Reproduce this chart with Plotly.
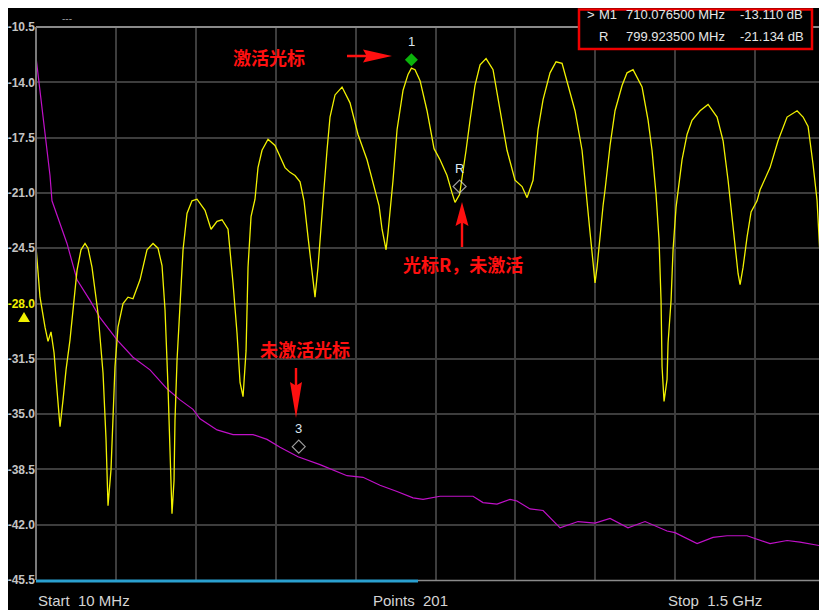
import plotly.graph_objects as go

# sweep settings shown on the screen
START_MHZ = 10
STOP_MHZ = 1500
POINTS = 201

# trace 1 (yellow): MHz / dB
trc1_freq = [10, 17.5, 26.8, 32.4, 38, 43.6, 49.2, 54.8, 60.4, 66, 73.4, 86.5, 93.9, 101.4,
             107, 114.4, 125.6, 135, 140.6, 144.3, 149.9, 153.6, 157.3, 162.9, 172.3, 181.6,
             190.9, 204, 217, 228.2, 237.5, 245, 250.6, 256.2, 259.9, 263.6, 267.4, 269.2,
             273, 278.6, 284.2, 291.6, 300.9, 310.3, 325.2, 336.4, 347.6, 356.9, 368.1, 377.4,
             384.9, 390.5, 396.1, 401.7, 405.4, 411, 418.4, 424, 431.5, 442.7, 455.7, 465.1,
             474.4, 483.7, 493, 502.4, 509.8, 517.3, 524.7, 530.3, 535.9, 541.5, 545.3, 552.7,
             558.3, 567.6, 580.7, 595.6, 610.5, 627.3, 642.2, 649.7, 655.3, 662.8, 666.5, 672.1,
             675.8, 683.3, 694.5, 703.8, 710.1, 716.8, 726.2, 739.2, 752.3, 763.5, 776.5, 785.8,
             791.4, 799.9, 806.4, 812, 819.4, 828.7, 838.1, 849.3, 862.3, 875.4, 888.4, 903.3,
             916.4, 925.7, 936.9, 946.2, 955.6, 968.6, 979.8, 991, 1000.3, 1015.2, 1028.3,
             1035.8, 1043.2, 1048.8, 1052.5, 1056.3, 1061.9, 1067.5, 1071.2, 1080.5, 1089.8,
             1102.9, 1112.2, 1123.4, 1140.2, 1151.4, 1158.8, 1166.3, 1171.9, 1175.6, 1177.5,
             1181.2, 1186.8, 1188.7, 1194.3, 1198, 1203.6, 1214.8, 1224.1, 1233.4, 1248.4,
             1263.3, 1280.1, 1291.3, 1300.6, 1308.1, 1313.7, 1319.2, 1323, 1328.6, 1336,
             1343.5, 1354.7, 1360.3, 1378.9, 1393.8, 1410.6, 1429.3, 1440.5, 1449.8, 1459.1,
             1466.6, 1472.2, 1477.8, 1481.5, 1483.4, 1485.3, 1500]
trc1_db = [-24.4, -27.6, -29.5, -30.4, -29.8, -31.1, -33.5, -35.8, -34.1, -32.2, -30.3, -25.9,
           -24.6, -24.2, -24.5, -25.7, -28.6, -32.4, -36.6, -40.8, -38.5, -35.2, -32.0, -29.5,
           -28.0, -27.6, -27.7, -26.5, -24.6, -24.2, -24.5, -25.6, -28.4, -33.3, -37.9, -41.3,
           -39.2, -35.4, -31.6, -27.8, -24.6, -22.3, -21.5, -21.4, -22.1, -23.3, -22.8, -22.7,
           -23.3, -26.7, -29.9, -33.0, -33.9, -31.0, -25.7, -22.5, -21.4, -19.4, -18.3, -17.6,
           -18.0, -18.7, -19.4, -19.7, -19.9, -20.3, -21.5, -23.8, -26.1, -27.6, -25.7, -23.5,
           -21.5, -18.3, -16.2, -14.8, -14.3, -15.3, -17.3, -18.9, -20.8, -21.8, -23.3, -24.6,
           -23.5, -21.5, -20.2, -17.0, -14.5, -13.5, -13.1, -13.2, -13.9, -15.8, -18.2, -18.9,
           -19.9, -21.0, -21.6, -21.1, -19.7, -18.3, -16.4, -14.2, -12.9, -12.5, -13.2, -15.8,
           -18.3, -20.2, -20.6, -21.3, -20.2, -17.0, -15.1, -13.4, -12.7, -12.8, -13.9, -15.8,
           -18.3, -21.1, -23.5, -25.4, -26.7, -25.7, -23.5, -21.8, -20.8, -18.0, -15.8, -14.2,
           -13.4, -13.2, -14.3, -16.4, -18.3, -21.1, -24.0, -27.8, -32.0, -34.2, -32.8, -30.5,
           -27.8, -24.6, -21.9, -18.9, -17.3, -16.4, -15.8, -15.4, -16.2, -17.7, -20.2, -22.5,
           -24.6, -26.1, -26.8, -25.7, -23.8, -22.2, -21.5, -20.8, -19.4, -17.7, -16.2, -15.8,
           -16.2, -16.8, -19.2, -21.5, -25.1, -27.8, -30.8, -35.2, -42.7, -43.0]

# trace 2 (magenta)
trc2_freq = [10, 17.5, 22.9, 30.5, 36.1, 39.8, 67.8, 86.5, 110.7, 129.4, 161.1, 190.9, 222.6,
             254.3, 278.6, 302.8, 315.9, 347.6, 377.4, 414.7, 440.8, 465.1, 498.6, 539.6, 590,
             619.8, 651.5, 683.3, 713.1, 731.8, 763.5, 795.2, 825, 843.6, 869.7, 894, 907,
             931.3, 955.6, 987.3, 1020.8, 1052.5, 1080.5, 1114, 1145.8, 1186.8, 1201.7, 1242.8,
             1272.6, 1298.7, 1336, 1378.9, 1410.6, 1434.8, 1485, 1500]
trc2_db = [-12.4, -14.5, -16.1, -18.3, -19.9, -21.5, -24.2, -26.5, -27.8, -28.9, -30.3, -31.4,
           -32.2, -33.4, -34.1, -34.7, -35.3, -36.0, -36.3, -36.3, -36.6, -37.1, -37.7, -38.2,
           -38.9, -39.0, -39.5, -39.9, -40.3, -40.4, -40.2, -40.2, -40.2, -40.6, -40.7, -40.4,
           -40.5, -41.0, -41.1, -42.2, -41.8, -41.9, -41.6, -42.2, -41.8, -42.4, -42.5, -43.2,
           -42.8, -42.7, -42.7, -43.2, -43.0, -43.1, -43.4, -43.5]

# markers: name, stimulus, response
mkr_names = ["1", "R", "3"]
mkr_freq = [710.0765, 799.9235, 500.0]
mkr_db = [-13.110, -21.134, -37.6]
mkr_table = [(">", "M1", "710.076500 MHz", "-13.110 dB"),
             ("", "R", "799.923500 MHz", "-21.134 dB")]

y_ticks = [-10.5, -14.0, -17.5, -21.0, -24.5, -28.0, -31.5, -35.0, -38.5, -42.0, -45.5]
REF_LEVEL = -28.0

# screen geometry (pixels) of the graticule; the page puts the figure at (8, 8)
PAGE = 8
L, T, R, B = 36, 27, 827, 580
FULL_W = 799  # full sweep width, the right edge is cut off by the screenshot
W, H = R - L, B - T
x_end = START_MHZ + (STOP_MHZ - START_MHZ) * W / FULL_W
db_per_px = (y_ticks[0] - y_ticks[-1]) / H


def px(x):
    return (x - L) / W


def py(y):
    return (B - y) / H


FONT = "Liberation Sans, Arial, sans-serif"
CJK = "Noto Sans CJK SC, sans-serif"
GRID = "#3d3d3d"
RED = "#ff1010"

fig = go.Figure()

fig.add_trace(go.Scatter(x=trc2_freq, y=trc2_db, mode="lines",
                         line=dict(color="#c010c8", width=1.2)))
fig.add_trace(go.Scatter(x=trc1_freq, y=trc1_db, mode="lines",
                         line=dict(color="#f2f200", width=1.3)))

# marker symbols sit a few pixels above the trace point
lift = 8.5 * db_per_px
fig.add_trace(go.Scatter(
    x=mkr_freq, y=[v + lift for v in mkr_db], mode="markers",
    marker=dict(symbol=["diamond", "diamond-open", "diamond-open"], size=[10, 10, 10],
                color=["#10ff10", "#e0e0e0", "#e0e0e0"],
                line=dict(width=[0, 1.2, 1.2], color=["#10ff10", "#e0e0e0", "#e0e0e0"]))))

ticktext = []
for v in y_ticks:
    if v == REF_LEVEL:
        ticktext.append(f"<b><span style='color:#f0f000'>{v:.1f}</span></b>")
    else:
        ticktext.append(f"<b>{v:.1f}</b>")

fig.update_layout(
    width=827 - PAGE, height=610 - PAGE,
    margin=dict(l=L - PAGE, r=827 - R, t=T - PAGE, b=610 - B, pad=0),
    paper_bgcolor="black", plot_bgcolor="black",
    showlegend=False,
    font=dict(family=FONT, color="#d0d0d0"),
    xaxis=dict(range=[START_MHZ, x_end], tickvals=[START_MHZ + k * (STOP_MHZ - START_MHZ) / 10 for k in range(11)],
               showticklabels=False, showgrid=True, gridcolor=GRID, gridwidth=1.5,
               zeroline=False, showline=False, ticks="", automargin=False),
    yaxis=dict(range=[y_ticks[-1], y_ticks[0]], tickvals=y_ticks, ticktext=ticktext,
               showgrid=True, gridcolor=GRID, gridwidth=1.5, zeroline=False, showline=False,
               ticks="", ticklabelstandoff=0, automargin=False,
               tickfont=dict(family=FONT, size=12, color="#c4c4c4")),
)

shapes = []
# frame lines
shapes.append(dict(type="line", xref="paper", yref="paper", x0=px(L), x1=px(R), y0=1, y1=1,
                   line=dict(color="#8a8a8a", width=2)))
shapes.append(dict(type="line", xref="paper", yref="paper", x0=px(L), x1=px(L), y0=0, y1=1,
                   line=dict(color="#7a7a7a", width=2)))
# sweep progress bar at the bottom
shapes.append(dict(type="line", xref="paper", yref="paper", x0=px(418), x1=px(R), y0=py(580.5), y1=py(580.5),
                   line=dict(color="#8a8a8a", width=1.5)))
shapes.append(dict(type="line", xref="paper", yref="paper", x0=px(L), x1=px(418), y0=py(581), y1=py(581),
                   line=dict(color="#2aa0d0", width=3)))
# marker table box
shapes.append(dict(type="rect", xref="paper", yref="paper", x0=px(579), x1=px(812), y0=py(49), y1=py(9.5),
                   line=dict(color="#f00000", width=2.5), fillcolor="black"))
# reference level triangle
shapes.append(dict(type="path", xref="paper", yref="paper",
                   path=f"M{px(24)},{py(312)} L{px(30)},{py(322)} L{px(18)},{py(322)} Z",
                   line=dict(width=0), fillcolor="#f0f000"))


def arrow(pts):
    p = "M" + " L".join(f"{px(a)},{py(b)}" for a, b in pts) + " Z"
    return dict(type="path", xref="paper", yref="paper", path=p, line=dict(width=0), fillcolor=RED)


# right arrow towards the active marker
shapes.append(arrow([(347, 54.8), (366, 54.8), (363, 49.5), (392, 56), (363, 62.5), (366, 57.2), (347, 57.2)]))
# up arrow towards marker R
shapes.append(arrow([(460.8, 247), (460.8, 223), (455.5, 226), (462, 202), (468.5, 226), (463.2, 223), (463.2, 247)]))
# down arrow towards marker 3
shapes.append(arrow([(294.8, 368), (294.8, 385), (290, 382), (296, 418), (302, 382), (297.2, 385), (297.2, 368)]))
fig.update_layout(shapes=shapes)


def note(text, x, y, size, color, family=FONT, xanchor="center"):
    return dict(x=px(x), y=py(y), xref="paper", yref="paper", text=text, showarrow=False,
                xanchor=xanchor, yanchor="middle", font=dict(family=family, size=size, color=color))


ann = []
# marker labels
for name, f, v in zip(mkr_names, mkr_freq, mkr_db):
    ann.append(dict(x=f, y=v, xref="x", yref="y", text=name, showarrow=False, yshift=26.5,
                    xanchor="center", yanchor="middle",
                    font=dict(family=FONT, size=13, color="#dce6f0")))

# marker table
for row, ty in zip(mkr_table, [15, 36]):
    for txt, tx in zip(row, [585, 597, 624, 738]):
        if txt:
            ann.append(note(txt, tx, ty, 13, "#e6e6e6", xanchor="left"))

ann.append(note("---", 67, 18, 10, "#9a9a9a"))

# callouts
ann.append(note("<b>激活光标</b>", 269, 57, 18, RED, CJK))
ann.append(note("<b>光标R，未激活</b>", 463, 264, 18, RED, CJK))
ann.append(note("<b>未激活光标</b>", 305, 349, 18, RED, CJK))

# footer
ann.append(note(f"Start  {START_MHZ} MHz", 36, 600, 15, "#d4d4d4", xanchor="left"))
ann.append(note(f"Points  {POINTS}", 410, 600, 15, "#d4d4d4"))
ann.append(note(f"Stop  {STOP_MHZ / 1000:g} GHz", 666, 600, 15, "#d4d4d4", xanchor="left"))
fig.update_layout(annotations=ann)

fig.write_html("out.html")
